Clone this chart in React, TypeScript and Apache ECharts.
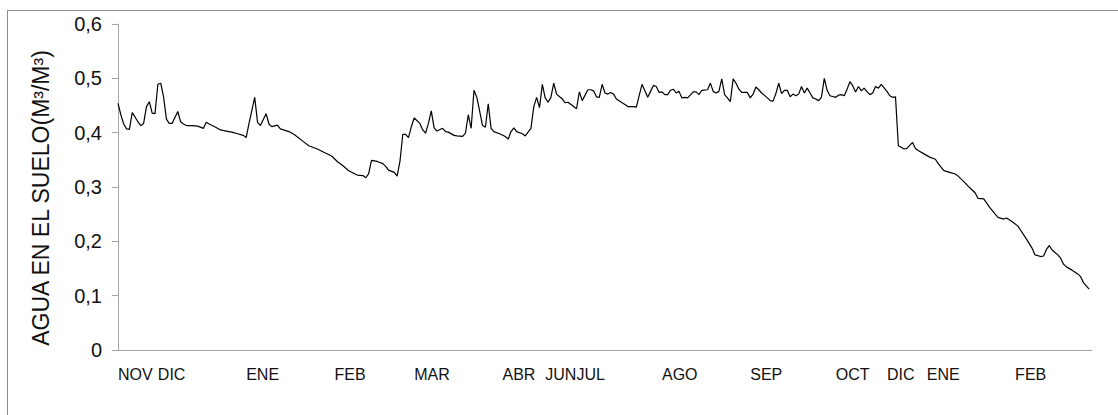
import React, { useEffect, useRef } from "react";
import * as echarts from "echarts";

const days = [
  0, 1, 2, 3, 4, 5, 7, 8, 9, 10, 11, 12, 13, 14, 15, 16, 17, 18, 19, 21,
  22, 23, 24, 26, 28, 30, 31, 32, 34, 36, 38, 40, 42, 44, 45, 46, 48, 49, 50, 52,
  53, 54, 56, 57, 60, 62, 65, 67, 70, 73, 75, 77, 79, 81, 84, 86, 87, 88, 89, 91,
  93, 94, 95, 97, 98, 99, 100, 101, 102, 103, 104, 106, 107, 108, 109, 110, 111, 112, 114, 115,
  116, 118, 119, 121, 122, 123, 124, 125, 126, 127, 128, 129, 130, 131, 132, 134, 136, 137, 138, 139,
  140, 142, 143, 145, 146, 147, 148, 149, 150, 151, 152, 153, 154, 156, 157, 158, 160, 161, 162, 163,
  165, 166, 167, 168, 169, 170, 171, 172, 173, 174, 175, 177, 178, 179, 181, 182, 183, 184, 186, 187,
  188, 189, 190, 191, 192, 193, 194, 195, 196, 197, 198, 199, 200, 202, 203, 204, 205, 207, 208, 209,
  210, 211, 212, 213, 214, 215, 216, 217, 218, 219, 221, 222, 223, 224, 225, 226, 228, 229, 230, 231,
  232, 233, 234, 235, 236, 237, 238, 239, 240, 241, 242, 243, 244, 245, 246, 247, 248, 249, 250, 252,
  253, 254, 255, 256, 257, 258, 259, 260, 261, 262, 263, 264, 265, 266, 267, 268, 270, 271, 272, 273,
  274, 275, 276, 277, 279, 280, 281, 283, 285, 287, 288, 290, 292, 294, 295, 297, 299, 301, 302, 304,
  306, 308, 309, 311, 312, 314, 316, 317, 319, 321, 322, 324, 325, 326, 327, 328, 330, 331, 332, 333,
  335, 337, 338, 339, 341,
];

const water = [
  0.454, 0.433, 0.416, 0.407, 0.406, 0.437, 0.42, 0.413, 0.417, 0.448, 0.457, 0.436, 0.435, 0.489, 0.491, 0.466, 0.425, 0.417, 0.417, 0.439,
  0.42, 0.416, 0.413, 0.413, 0.412, 0.408, 0.419, 0.416, 0.411, 0.405, 0.403, 0.401, 0.398, 0.395, 0.391, 0.417, 0.465, 0.419, 0.413, 0.435,
  0.416, 0.411, 0.414, 0.407, 0.402, 0.396, 0.384, 0.376, 0.37, 0.362, 0.357, 0.347, 0.339, 0.33, 0.322, 0.321, 0.317, 0.324, 0.349, 0.347,
  0.343, 0.338, 0.331, 0.327, 0.32, 0.347, 0.397, 0.397, 0.391, 0.411, 0.427, 0.417, 0.405, 0.399, 0.417, 0.44, 0.409, 0.403, 0.408, 0.402,
  0.401, 0.395, 0.394, 0.393, 0.399, 0.433, 0.408, 0.478, 0.465, 0.439, 0.413, 0.41, 0.453, 0.408, 0.402, 0.398, 0.393, 0.388, 0.402, 0.409,
  0.402, 0.398, 0.394, 0.408, 0.448, 0.465, 0.446, 0.489, 0.464, 0.456, 0.465, 0.491, 0.471, 0.462, 0.455, 0.456, 0.448, 0.444, 0.475, 0.459,
  0.479, 0.479, 0.477, 0.466, 0.465, 0.489, 0.473, 0.471, 0.474, 0.471, 0.462, 0.455, 0.452, 0.448, 0.448, 0.447, 0.468, 0.489, 0.465, 0.476,
  0.487, 0.485, 0.474, 0.475, 0.47, 0.47, 0.478, 0.48, 0.473, 0.476, 0.464, 0.465, 0.464, 0.475, 0.475, 0.47, 0.478, 0.479, 0.491, 0.476,
  0.473, 0.476, 0.499, 0.47, 0.464, 0.457, 0.499, 0.491, 0.48, 0.474, 0.474, 0.464, 0.471, 0.484, 0.479, 0.473, 0.464, 0.459, 0.458, 0.472,
  0.491, 0.472, 0.478, 0.478, 0.466, 0.471, 0.468, 0.471, 0.485, 0.473, 0.482, 0.473, 0.464, 0.462, 0.459, 0.465, 0.5, 0.478, 0.468, 0.465,
  0.469, 0.47, 0.468, 0.48, 0.494, 0.486, 0.475, 0.485, 0.477, 0.482, 0.475, 0.47, 0.473, 0.485, 0.482, 0.489, 0.476, 0.468, 0.465, 0.466,
  0.376, 0.373, 0.37, 0.371, 0.382, 0.371, 0.367, 0.361, 0.355, 0.351, 0.343, 0.33, 0.327, 0.324, 0.32, 0.31, 0.299, 0.289, 0.279, 0.278,
  0.263, 0.25, 0.244, 0.241, 0.243, 0.236, 0.228, 0.22, 0.204, 0.187, 0.175, 0.172, 0.173, 0.185, 0.192, 0.184, 0.175, 0.169, 0.158, 0.153,
  0.147, 0.14, 0.135, 0.124, 0.112,
];

const monthStarts = [0, 14, 45, 76, 104, 135, 150, 161, 191, 222, 252, 270, 284, 315];
const monthNames = ["NOV", "DIC", "ENE", "FEB", "MAR", "ABR", "JUN", "JUL", "AGO", "SEP", "OCT", "DIC", "ENE", "FEB"];
const yTicks = [0, 0.1, 0.2, 0.3, 0.4, 0.5, 0.6];
const yTitle = "AGUA EN EL SUELO(M³/M³)";

export default function App() {
  const ref = useRef<HTMLDivElement>(null);

  useEffect(() => {
    if (!ref.current) return;
    const chart = echarts.init(ref.current, undefined, { renderer: "svg" });
    const font = "'Liberation Sans', Arial, sans-serif";
    chart.setOption({
      animation: false,
      backgroundColor: "#ffffff",
      grid: { left: 118, top: 24, right: 26, bottom: 65 },
      xAxis: {
        type: "value",
        min: 0,
        max: 342,
        splitLine: { show: false },
        axisTick: { show: false },
        axisLine: { show: true, lineStyle: { color: "#a6a6a6", width: 1 } },
        axisLabel: {
          customValues: monthStarts,
          formatter: (v: number) => {
            const i = monthStarts.indexOf(v);
            return i >= 0 ? monthNames[i] : "";
          },
          align: "left",
          margin: 16,
          fontSize: 16,
          fontFamily: font,
          color: "#111111",
        },
      },
      yAxis: {
        type: "value",
        min: 0,
        max: 0.6,
        interval: 0.1,
        splitLine: { show: false },
        axisLine: { show: true, lineStyle: { color: "#a6a6a6", width: 1 } },
        axisTick: { show: true, length: 6, lineStyle: { color: "#a6a6a6" } },
        axisLabel: {
          customValues: yTicks,
          formatter: (v: number) => (v === 0 ? "0" : v.toFixed(1).replace(".", ",")),
          margin: 16,
          fontSize: 20,
          fontFamily: font,
          color: "#111111",
        },
      },
      series: [
        {
          type: "line",
          data: days.map((d, i) => [d, water[i]]),
          showSymbol: false,
          symbol: "none",
          lineStyle: { color: "#000000", width: 1.2 },
        },
      ],
      graphic: [
        {
          type: "rect",
          shape: { x: 7.5, y: 10.5, width: 1130, height: 420 },
          style: { fill: "none", stroke: "#8c8c8c", lineWidth: 1 },
          silent: true,
        },
        {
          type: "text",
          x: 41,
          y: 198,
          rotation: Math.PI / 2,
          style: {
            text: yTitle,
            align: "center",
            verticalAlign: "middle",
            fontSize: 23,
            fontFamily: font,
            fill: "#111111",
          },
        },
      ],
    });
    return () => chart.dispose();
  }, []);

  return (
    <div
      ref={ref}
      style={{ position: "fixed", left: 0, top: 0, width: 1118, height: 415, background: "#fff" }}
    />
  );
}
